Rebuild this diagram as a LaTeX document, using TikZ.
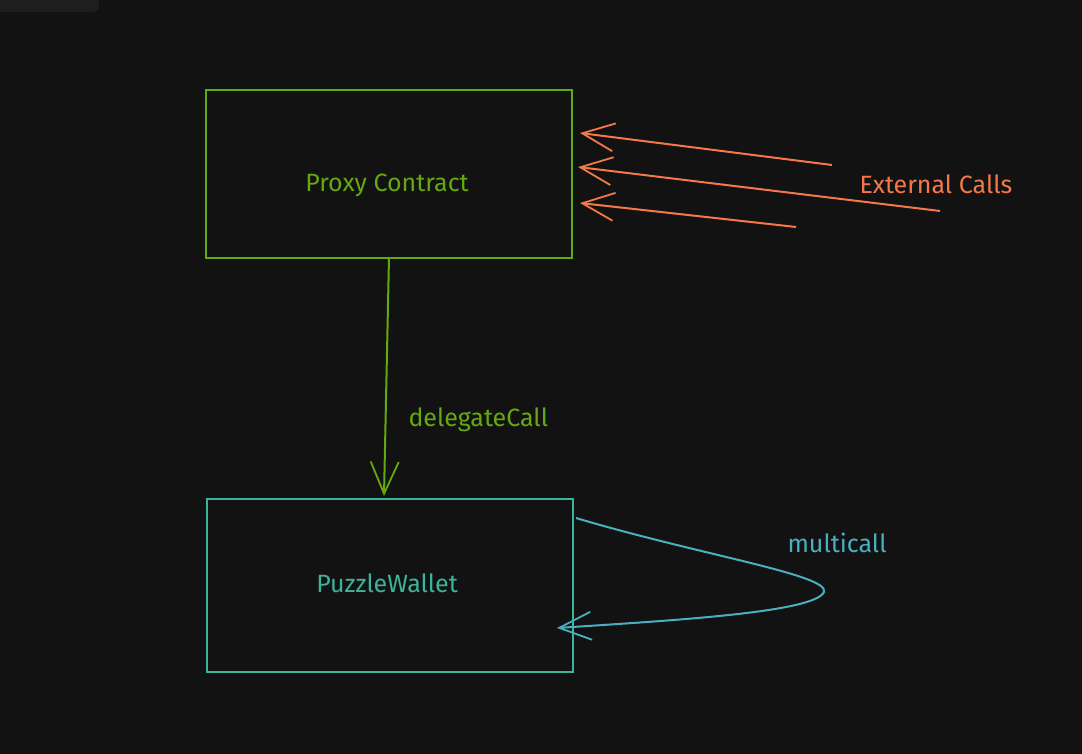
\documentclass[tikz,border=0pt]{standalone}
\usepackage{fontspec}
\setmainfont{Fira Sans}
\usetikzlibrary{arrows.meta}
\definecolor{bg}{HTML}{121212}
\definecolor{panel}{HTML}{1E1E1E}
\definecolor{pgreen}{HTML}{66A80F}
\definecolor{porange}{HTML}{F4784A}
\definecolor{pteal}{HTML}{3DB39A}
\definecolor{pblue}{HTML}{4AAFC0}
\begin{document}
\begin{tikzpicture}[x=1pt,y=-1pt,
  boxstyle/.style={draw=#1,line width=1.6pt,minimum width=366pt,anchor=north west,inner sep=0pt},
  lbl/.style={font=\fontsize{25}{28}\selectfont,text=#1},
  barb/.style={line width=2pt,draw=#1,-{Straight Barb[length=32pt,width=28pt,line width=1.8pt]}}]
\fill[bg] (0,0) rectangle (1082,754);
\useasboundingbox (0,0) rectangle (1082,754);
\fill[panel,rounded corners=6pt] (-10,-10) rectangle (99,12);
% boxes
\node[boxstyle=pgreen,minimum height=168pt] (proxy) at (205,89) {};
\node[boxstyle=pteal,minimum height=173pt] (wallet) at (206,498) {};
\node[lbl=pgreen] (proxyt) at (387,185) {Proxy Contract};
\node[lbl=pteal] (wallett) at (387,583) {PuzzleWallet};
% delegate call
\coordinate (dtop) at (389,257);
\coordinate (dbot) at (384,496);
\draw[barb=pgreen] (dtop) -- (dbot);
\node[lbl=pgreen,anchor=west] (dcl) at (405,420) {delegateCall};
% external calls
\coordinate (e1s) at (832,165); \coordinate (e1e) at (580,133);
\coordinate (e2s) at (940,211); \coordinate (e2e) at (578,167);
\coordinate (e3s) at (796,227); \coordinate (e3e) at (580,203);
\draw[barb=porange] (e1s) -- (e1e);
\draw[barb=porange] (e2s) -- (e2e);
\draw[barb=porange] (e3s) -- (e3e);
\node[lbl=porange,anchor=west] (ext) at (856,184) {External Calls};
% multicall
\coordinate (ms) at (576,518);
\coordinate (mtip) at (824,592);
\coordinate (me) at (557,628);
\draw[barb=pblue]
  (ms) .. controls (700,555) and (830,575) .. (mtip)
  .. controls (815,612) and (680,620) .. (me);
\node[lbl=pblue,anchor=west] (mc) at (784,543) {multicall};
\end{tikzpicture}
\end{document}
